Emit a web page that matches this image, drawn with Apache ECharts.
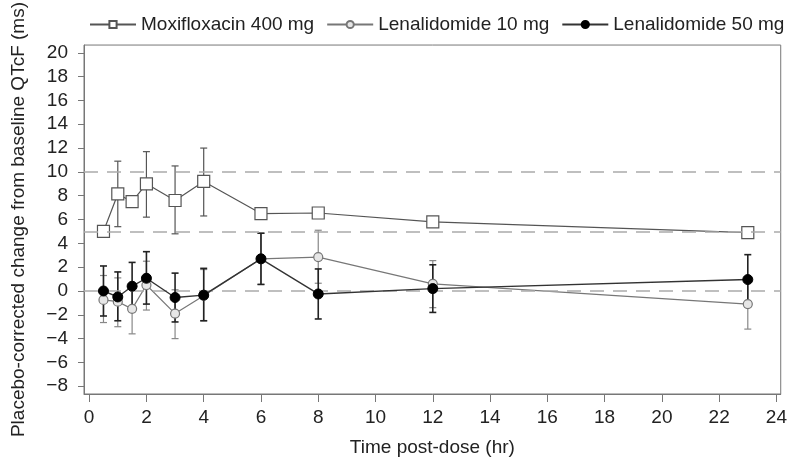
<!DOCTYPE html>
<html>
<head>
<meta charset="utf-8">
<script src="https://cdn.jsdelivr.net/npm/echarts@6/dist/echarts.min.js"></script>
<style>html,body{margin:0;padding:0;background:#fff}#c{width:790px;height:462px}</style>
</head>
<body>
<div id="c"></div>
<script>
const xTimes = [0.5, 1, 1.5, 2, 3, 4, 6, 8, 12, 23];
const xTicks = [0, 2, 4, 6, 8, 10, 12, 14, 16, 18, 20, 22, 24];
const yTicks = [-8, -6, -4, -2, 0, 2, 4, 6, 8, 10, 12, 14, 16, 18, 20];
const refLines = [0, 5, 10];

const moxiMean = [5.0, 8.15, 7.5, 9.0, 7.6, 9.2, 6.5, 6.55, 5.8, 4.9];
const moxiLow  = [null, 5.4, null, 6.2, 4.8, 6.3, null, null, null, null];
const moxiHigh = [null, 10.9, null, 11.7, 10.5, 12.0, null, null, null, null];

const len10Mean = [-0.75, -0.9, -1.5, 0.5, -1.9, -0.4, 2.7, 2.85, 0.6, -1.1];
const len10Low  = [-2.65, -3.0, -3.6, -1.6, -4.0, -2.5, 0.55, 0.65, -1.4, -3.2];
const len10High = [1.3, 1.1, 0.6, 2.5, 0.1, 1.8, 4.85, 5.1, 2.55, 1.0];

const len50Mean = [0.0, -0.5, 0.4, 1.07, -0.55, -0.35, 2.7, -0.25, 0.2, 0.96];
const len50Low  = [-2.1, -2.5, -1.6, -1.1, -2.6, -2.5, 0.55, -2.35, -1.8, -1.15];
const len50High = [2.1, 1.6, 2.4, 3.3, 1.5, 1.9, 4.85, 1.85, 2.2, 3.05];

const names = ['Moxifloxacin 400 mg', 'Lenalidomide 10 mg', 'Lenalidomide 50 mg'];

function pairs(ys) { return xTimes.map((x, i) => [x, ys[i]]); }
function bars(lo, hi) {
  const out = [];
  xTimes.forEach((x, i) => { if (lo[i] != null && hi[i] != null) out.push([x, lo[i], hi[i]]); });
  return out;
}
function errSeries(lo, hi, color, width) {
  return {
    type: 'custom',
    silent: true,
    z: 3,
    data: bars(lo, hi),
    renderItem: function (params, api) {
      const x = api.value(0);
      const p1 = api.coord([x, api.value(1)]);
      const p2 = api.coord([x, api.value(2)]);
      const w = 3.5;
      const st = { stroke: color, lineWidth: width };
      return {
        type: 'group',
        children: [
          { type: 'line', shape: { x1: p1[0], y1: p1[1], x2: p2[0], y2: p2[1] }, style: st },
          { type: 'line', shape: { x1: p1[0] - w, y1: p1[1], x2: p1[0] + w, y2: p1[1] }, style: st },
          { type: 'line', shape: { x1: p2[0] - w, y1: p2[1], x2: p2[0] + w, y2: p2[1] }, style: st }
        ]
      };
    }
  };
}

const font = 'Liberation Sans, Arial, sans-serif';
const chart = echarts.init(document.getElementById('c'), null, { renderer: 'canvas' });
chart.setOption({
  animation: false,
  textStyle: { fontFamily: font },
  grid: { left: 84, right: 5, top: 36, bottom: 66, show: true, borderColor: '#777', borderWidth: 1 },
  legend: {
    data: names,
    left: 84, top: 10,
    itemWidth: 46, itemHeight: 9, itemGap: 12,
    textStyle: { fontFamily: font, fontSize: 19, color: '#222' }
  },
  xAxis: {
    type: 'value', min: -0.18, max: 24.15,
    name: 'Time post-dose (hr)', nameLocation: 'middle', nameGap: 44,
    nameTextStyle: { fontSize: 19, color: '#222', fontFamily: font },
    axisLine: { show: true, onZero: false, lineStyle: { color: '#777' } },
    axisTick: { show: true, length: 8, customValues: xTicks, lineStyle: { color: '#777' } },
    axisLabel: { customValues: xTicks, fontSize: 19, color: '#222', margin: 14 },
    splitLine: { show: false }
  },
  yAxis: {
    type: 'value', min: -8.65, max: 20.65,
    name: 'Placebo-corrected change from baseline QTcF (ms)', nameLocation: 'middle', nameGap: 56,
    nameTextStyle: { fontSize: 19, color: '#222', fontFamily: font },
    axisLine: { show: true, onZero: false, lineStyle: { color: '#777' } },
    axisTick: { show: true, length: 6, customValues: yTicks, lineStyle: { color: '#777' } },
    axisLabel: {
      customValues: yTicks, fontSize: 19, color: '#222', margin: 16,
      formatter: v => String(v).replace('-', '\u2212')
    },
    splitLine: { show: false }
  },
  series: [
    {
      name: names[0], type: 'line', data: pairs(moxiMean),
      symbol: 'rect', symbolSize: 12, z: 4,
      itemStyle: { color: '#fff', borderColor: '#555', borderWidth: 1.2 },
      lineStyle: { color: '#555', width: 1.2 }
    },
    {
      name: names[1], type: 'line', data: pairs(len10Mean),
      symbol: 'circle', symbolSize: 9, z: 4,
      itemStyle: { color: '#e6e6e6', borderColor: '#777', borderWidth: 1.2 },
      lineStyle: { color: '#777', width: 1.2 }
    },
    {
      name: names[2], type: 'line', data: pairs(len50Mean),
      symbol: 'circle', symbolSize: 10, z: 5,
      itemStyle: { color: '#000', borderColor: '#000', borderWidth: 1 },
      lineStyle: { color: '#333', width: 1.4 }
    },
    {
      type: 'line', silent: true, data: [], z: 1,
      markLine: {
        silent: true, symbol: 'none', label: { show: false },
        lineStyle: { color: '#aaa', type: [14, 9], width: 1.6 },
        data: refLines.map(v => ({ yAxis: v }))
      }
    },
    errSeries(moxiLow, moxiHigh, '#555', 1.2),
    errSeries(len10Low, len10High, '#888', 1.2),
    errSeries(len50Low, len50High, '#222', 1.6)
  ]
});
</script>
</body>
</html>
